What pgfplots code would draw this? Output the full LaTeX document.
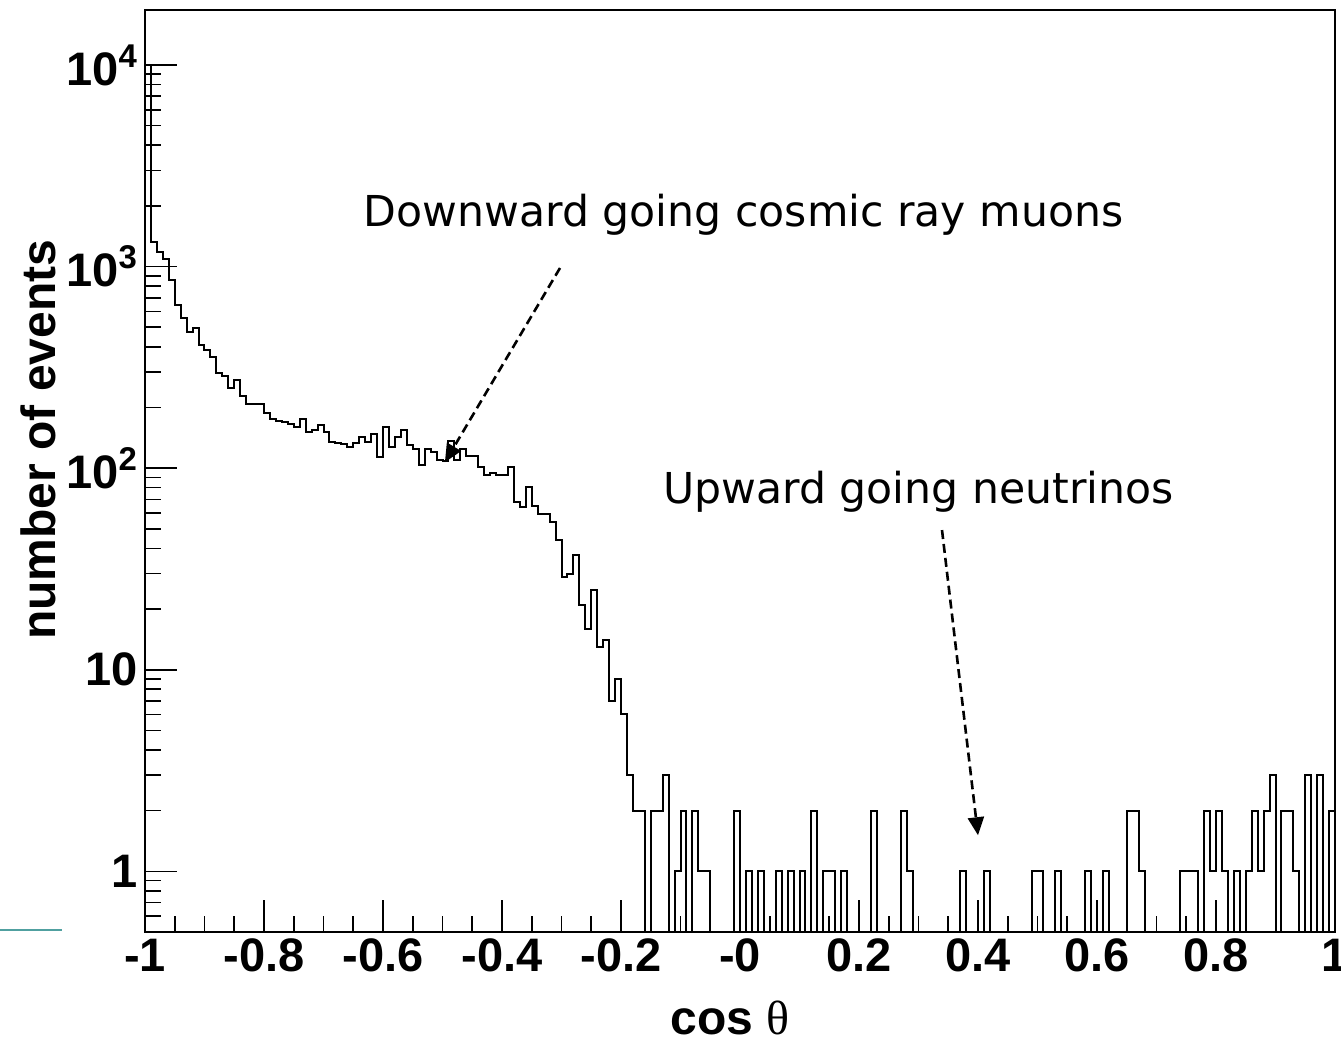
\documentclass[border=0pt]{standalone}
\usepackage{fontspec}
\setmainfont{Liberation Sans}
\newfontfamily\annfont{DejaVu Sans}
\newfontfamily\greekfont{Liberation Serif}
\usepackage{pgfplots}
\pgfplotsset{compat=1.18}
\usepackage{pgfplotstable}
\usetikzlibrary{calc,arrows.meta}
\definecolor{slideteal}{RGB}{80,160,160}

% bin left edge, counts (0.1 = empty bin, below the log floor)
\pgfplotstableread{
x y
-1.00 10000
-0.99 1327
-0.98 1175
-0.97 1085
-0.96 857
-0.95 644
-0.94 553
-0.93 475
-0.92 497
-0.91 408
-0.90 385
-0.89 357
-0.88 298
-0.87 287
-0.86 249
-0.85 273
-0.84 228
-0.83 207
-0.82 207
-0.81 207
-0.80 187
-0.79 176
-0.78 172
-0.77 170
-0.76 165
-0.75 160
-0.74 175
-0.73 151
-0.72 154
-0.71 163
-0.70 151
-0.69 135
-0.68 133
-0.67 132
-0.66 128
-0.65 134
-0.64 142
-0.63 135
-0.62 147
-0.61 114
-0.60 160
-0.59 128
-0.58 143
-0.57 154
-0.56 130
-0.55 124
-0.54 104
-0.53 124
-0.52 120
-0.51 110
-0.50 108
-0.49 136
-0.48 110
-0.47 125
-0.46 115
-0.45 115
-0.44 101
-0.43 92
-0.42 95
-0.41 92
-0.40 92
-0.39 101
-0.38 68
-0.37 64
-0.36 81
-0.35 65
-0.34 59
-0.33 59
-0.32 54
-0.31 44
-0.30 29
-0.29 30
-0.28 37
-0.27 21
-0.26 16
-0.25 25
-0.24 13
-0.23 14
-0.22 7
-0.21 9
-0.20 6
-0.19 3
-0.18 2
-0.17 2
-0.16 0.1
-0.15 2
-0.14 2
-0.13 3
-0.12 0.1
-0.11 1
-0.10 2
-0.09 0.1
-0.08 2
-0.07 1
-0.06 1
-0.05 0.1
-0.04 0.1
-0.03 0.1
-0.02 0.1
-0.01 2
0.00 0.1
0.01 1
0.02 0.1
0.03 1
0.04 0.1
0.05 0.1
0.06 1
0.07 0.1
0.08 1
0.09 0.1
0.10 1
0.11 0.1
0.12 2
0.13 0.1
0.14 1
0.15 1
0.16 0.1
0.17 1
0.18 0.1
0.19 0.1
0.20 0.1
0.21 0.1
0.22 2
0.23 0.1
0.24 0.1
0.25 0.1
0.26 0.1
0.27 2
0.28 1
0.29 0.1
0.30 0.1
0.31 0.1
0.32 0.1
0.33 0.1
0.34 0.1
0.35 0.1
0.36 0.1
0.37 1
0.38 0.1
0.39 0.1
0.40 0.1
0.41 1
0.42 0.1
0.43 0.1
0.44 0.1
0.45 0.1
0.46 0.1
0.47 0.1
0.48 0.1
0.49 1
0.50 1
0.51 0.1
0.52 0.1
0.53 1
0.54 0.1
0.55 0.1
0.56 0.1
0.57 0.1
0.58 1
0.59 0.1
0.60 0.1
0.61 1
0.62 0.1
0.63 0.1
0.64 0.1
0.65 2
0.66 2
0.67 1
0.68 0.1
0.69 0.1
0.70 0.1
0.71 0.1
0.72 0.1
0.73 0.1
0.74 1
0.75 1
0.76 1
0.77 0.1
0.78 2
0.79 1
0.80 2
0.81 1
0.82 0.1
0.83 1
0.84 0.1
0.85 1
0.86 2
0.87 1
0.88 2
0.89 3
0.90 0.1
0.91 2
0.92 2
0.93 1
0.94 0.1
0.95 3
0.96 0.1
0.97 3
0.98 0.1
0.99 2
1.00 2
}\histdata

\begin{document}
\begin{tikzpicture}
\begin{axis}[
  scale only axis,
  width=595pt, height=461pt,
  xmin=-1, xmax=1,
  ymode=log, ymin=0.5, ymax=18750,
  axis line style={line width=1pt},
  tick align=inside,
  xtick pos=bottom, ytick pos=left,
  xtick={-1,-0.8,-0.6,-0.4,-0.2,0,0.2,0.4,0.6,0.8,1},
  xticklabels={-1,-0.8,-0.6,-0.4,-0.2,-0,0.2,0.4,0.6,0.8,1},
  minor x tick num=3,
  ytick={1,10,100,1000,10000},
  yticklabels={1,10,10\textsuperscript{2},10\textsuperscript{3},10\textsuperscript{4}},
  minor ytick={0.6,0.7,0.8,0.9,2,3,4,5,6,7,8,9,20,30,40,50,60,70,80,90,200,300,400,500,600,700,800,900,2000,3000,4000,5000,6000,7000,8000,9000},
  major tick length=16pt, minor tick length=8pt,
  every tick/.style={black, line width=0.8pt},
  tick label style={font=\bfseries\fontsize{23.5}{27}\selectfont},
  /pgf/number format/assume math mode=true,
  xlabel={cos {\mdseries\greekfont θ}},
  ylabel={number of events},
  every axis x label/.style={at={(rel axis cs:0.4916,-0.0933)}, anchor=center, font=\bfseries\fontsize{24}{28}\selectfont},
  every axis y label/.style={at={(rel axis cs:-0.0900,0.534)}, anchor=center, rotate=90, font=\bfseries\fontsize{24}{28}\selectfont},
]
\addplot[const plot mark left, black, line width=1pt, mark=none] table {\histdata};

\node[font=\annfont\fontsize{21.3}{25}\selectfont, anchor=center] at (rel axis cs:0.503,0.778) {Downward going cosmic ray muons};
\node[font=\annfont\fontsize{21.3}{25}\selectfont, anchor=center] at (rel axis cs:0.650,0.477) {Upward going neutrinos};

\draw[black, line width=1.3pt, dash pattern=on 4.5pt off 2.5pt, -{Triangle[length=9pt,width=8pt]}]
  (axis cs:-0.3025,984) -- (axis cs:-0.496,107);
\draw[black, line width=1.3pt, dash pattern=on 4.5pt off 2.5pt, -{Triangle[length=9pt,width=8pt]}]
  (axis cs:0.3395,49.3) -- (axis cs:0.400,1.51);
\end{axis}
\draw[slideteal, line width=0.8pt] ($(current axis.south west)+(-72.5pt,1pt)$) -- ($(current axis.south west)+(-41.5pt,1pt)$);
\pgfresetboundingbox
\path[use as bounding box] ($(current axis.south west)+(-72.5pt,-55pt)$) rectangle ($(current axis.north east)+(3pt,5pt)$);
\end{tikzpicture}
\end{document}
